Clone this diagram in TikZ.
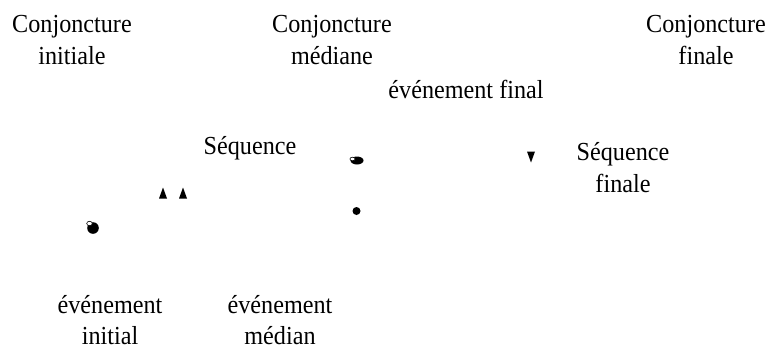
\documentclass[tikz,border=0pt]{standalone}
\usepackage{fontspec}
\setmainfont{Liberation Serif}[FakeStretch=0.93]
\begin{document}
\begin{tikzpicture}[x=1pt,y=-1pt,
  lbl/.style={align=center,inner sep=0pt,anchor=base,font=\fontsize{26}{31.5}\selectfont},
  dotmark/.style={fill=black}]
\useasboundingbox (0,0) rectangle (767,348);
% two-line labels: anchor=base refers to the last line
\node[lbl] (ci) at (72,64) {Conjoncture\\initiale};
\node[lbl] (cm) at (332,64) {Conjoncture\\médiane};
\node[lbl] (cf) at (706,64) {Conjoncture\\finale};
\node[lbl] (ef) at (466,98) {événement final};
\node[lbl] (sq) at (250,154) {Séquence};
\node[lbl] (sf) at (623,192) {Séquence\\finale};
\node[lbl] (ei) at (110,344.5) {événement\\initial};
\node[lbl] (em) at (280,344.5) {événement\\médian};
% markers
\fill[dotmark] (93,228) circle (5.8);
\draw[fill=white,line width=0.6pt] (89.5,223.5) ellipse (2.8 and 2.2);
\fill[dotmark] (163,187.5) -- (167,198.5) -- (159,198.5) -- cycle;
\fill[dotmark] (183,187.5) -- (187,198.5) -- (179,198.5) -- cycle;
\fill[dotmark] (357,160.5) ellipse (6.5 and 4);
\draw[fill=white,line width=0.6pt] (352.5,159) ellipse (2.6 and 1.8);
\fill[dotmark] (356.5,211) circle (4);
\fill[dotmark] (527,151.5) -- (535,151.5) -- (531,162.5) -- cycle;
\end{tikzpicture}
\end{document}
